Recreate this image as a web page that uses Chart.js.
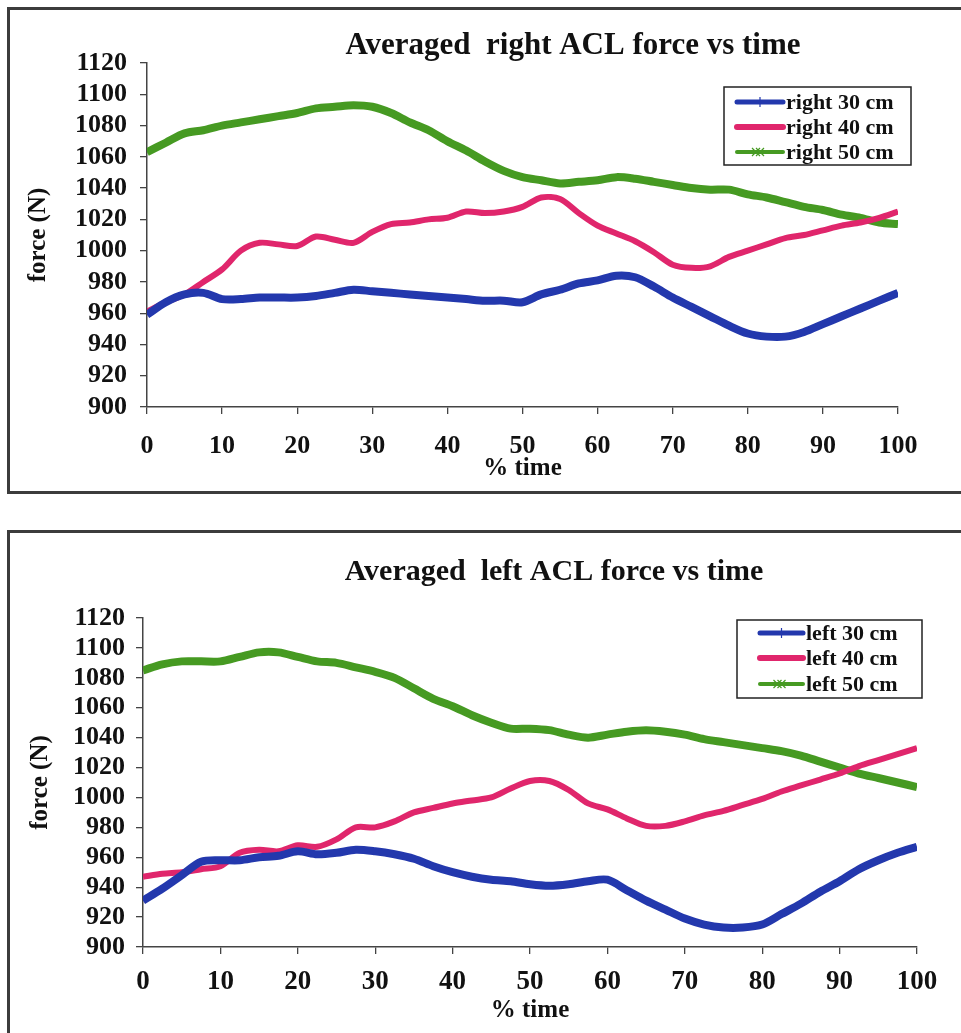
<!DOCTYPE html>
<html>
<head>
<meta charset="utf-8">
<title>Averaged ACL force vs time</title>
<script src="https://cdn.jsdelivr.net/npm/chart.js@4.4.0/dist/chart.umd.min.js"></script>
<style>
  html, body { margin: 0; padding: 0; background: #fff; overflow: hidden; width: 961px; height: 1033px; }
  .frame { position: absolute; border: 3px solid #3c3c3c; box-sizing: border-box; }
  #frameTop { left: 7px; top: 7px; width: 1000px; height: 487px; }
  #frameBottom { left: 7px; top: 530px; width: 1000px; height: 560px; }
  canvas { position: absolute; left: 0; }
  #chartTop { top: 0; }
  #chartBottom { top: 500px; }
</style>
</head>
<body>
<div class="frame" id="frameTop"></div>
<div class="frame" id="frameBottom"></div>
<canvas id="chartTop" width="961" height="500" style="width:961px;height:500px"></canvas>
<canvas id="chartBottom" width="961" height="533" style="width:961px;height:533px"></canvas>
<script>
// % of the movement time at which each averaged force value was sampled
const timePct = [0, 2.5, 5, 7.5, 10, 12.5, 15, 17.5, 20, 22.5, 25, 27.5, 30, 32.5, 35, 37.5, 40,
  42.5, 45, 47.5, 50, 52.5, 55, 57.5, 60, 62.5, 65, 67.5, 70, 72.5, 75, 77.5, 80, 82.5, 85,
  87.5, 90, 92.5, 95, 97.5, 100];

const xTicks = [0, 10, 20, 30, 40, 50, 60, 70, 80, 90, 100];
const yTicks = [900, 920, 940, 960, 980, 1000, 1020, 1040, 1060, 1080, 1100, 1120];

// Right knee, averaged ACL force (N)
const right30 = [959, 967, 972, 973, 969, 969, 970, 970, 970, 971, 973, 975, 974, 973, 972, 971, 970,
  969, 968, 968, 967, 972, 975, 979, 981, 984, 983, 977, 970, 964, 958, 952, 947, 945, 945,
  948, 953, 958, 963, 968, 973];
const right40 = [961, 967, 972, 980, 988, 1000, 1005, 1004, 1003, 1009, 1007, 1005, 1012, 1017, 1018,
  1020, 1021, 1025, 1024, 1025, 1028, 1034, 1033, 1024, 1016, 1011, 1006, 999, 991, 989, 990,
  996, 1000, 1004, 1008, 1010, 1013, 1016, 1018, 1021, 1025];
const right50 = [1063, 1069, 1075, 1077, 1080, 1082, 1084, 1086, 1088, 1091, 1092, 1093, 1092, 1088,
  1082, 1077, 1070, 1064, 1057, 1051, 1047, 1045, 1043, 1044, 1045, 1047, 1046, 1044, 1042, 1040,
  1039, 1039, 1036, 1034, 1031, 1028, 1026, 1023, 1021, 1018, 1017];

// Left knee, averaged ACL force (N)
const left30 = [931, 939, 948, 957, 958, 958, 960, 961, 964, 962, 963, 965, 964, 962, 959, 954, 950,
  947, 945, 944, 942, 941, 942, 944, 945, 938, 931, 925, 919, 915, 913, 913, 915, 922, 929,
  937, 944, 952, 958, 963, 967];
const left40 = [947, 949, 950, 952, 954, 963, 965, 964, 968, 967, 972, 980, 980, 984, 990, 993, 996,
  998, 1000, 1006, 1011, 1011, 1005, 996, 992, 986, 981, 981, 984, 988, 991, 995, 999, 1004,
  1008, 1012, 1016, 1021, 1025, 1029, 1033];
const left50 = [1085, 1089, 1091, 1091, 1091, 1094, 1097, 1097, 1094, 1091, 1090, 1087, 1084, 1080,
  1073, 1066, 1061, 1055, 1050, 1046, 1046, 1045, 1042, 1040, 1042, 1044, 1045, 1044, 1042, 1039,
  1037, 1035, 1033, 1031, 1028, 1024, 1020, 1016, 1013, 1010, 1007];

const BLUE = '#2338ad';
const PINK = '#e0266c';
const GREEN = '#469a22';
const SERIF = '"Liberation Serif", "Times New Roman", serif';

function points(values) {
  return timePct.map((t, i) => ({ x: t, y: values[i] }));
}

function series(label, values, color, width, marker) {
  return {
    label: label,
    data: points(values),
    borderColor: color,
    backgroundColor: color,
    borderWidth: width,
    pointRadius: 0,
    tension: 0.3,
    fill: false,
    marker: marker
  };
}

// Heading centred over the figure box rather than over the plot
const figureTitle = {
  id: 'figureTitle',
  afterDraw(chart, args, opts) {
    const ctx = chart.ctx;
    ctx.save();
    ctx.fillStyle = '#111';
    ctx.font = 'bold ' + opts.size + 'px ' + SERIF;
    ctx.textAlign = 'center';
    ctx.textBaseline = 'middle';
    ctx.fillText(opts.text, opts.x, opts.y);
    ctx.restore();
  }
};

// Boxed legend drawn inside the plot, as in the spreadsheet figure
const boxedLegend = {
  id: 'boxedLegend',
  afterDraw(chart, args, opts) {
    const ctx = chart.ctx;
    ctx.save();
    ctx.fillStyle = '#ffffff';
    ctx.fillRect(opts.left, opts.top, opts.width, opts.height);
    ctx.strokeStyle = '#222';
    ctx.lineWidth = 1.5;
    ctx.strokeRect(opts.left, opts.top, opts.width, opts.height);
    chart.data.datasets.forEach((ds, i) => {
      const y = opts.rows[i];
      ctx.strokeStyle = ds.borderColor;
      ctx.lineWidth = ds.marker === 'x' ? 4 : (ds.marker === '+' ? 5 : 6);
      ctx.lineCap = 'round';
      ctx.beginPath();
      ctx.moveTo(opts.sampleFrom, y);
      ctx.lineTo(opts.sampleTo, y);
      ctx.stroke();
      const cx = (opts.sampleFrom + opts.sampleTo) / 2;
      ctx.lineWidth = 1.2;
      ctx.lineCap = 'butt';
      if (ds.marker === '+') {
        ctx.beginPath();
        ctx.moveTo(cx, y - 5);
        ctx.lineTo(cx, y + 5);
        ctx.stroke();
      } else if (ds.marker === 'x') {
        ctx.beginPath();
        ctx.moveTo(cx - 4, y - 4); ctx.lineTo(cx + 4, y + 4);
        ctx.moveTo(cx - 4, y + 4); ctx.lineTo(cx + 4, y - 4);
        ctx.moveTo(cx - 8, y - 4); ctx.lineTo(cx, y + 4);
        ctx.moveTo(cx - 8, y + 4); ctx.lineTo(cx, y - 4);
        ctx.stroke();
      }
      ctx.fillStyle = '#111';
      ctx.font = 'bold ' + opts.fontSize + 'px ' + SERIF;
      ctx.textBaseline = 'middle';
      ctx.textAlign = 'left';
      ctx.fillText(ds.label, opts.textX, y + 1);
    });
    ctx.restore();
  }
};

function makeChart(id, cfg) {
  return new Chart(document.getElementById(id), {
    type: 'line',
    data: { datasets: cfg.datasets },
    plugins: [figureTitle, boxedLegend],
    options: {
      responsive: false,
      animation: false,
      events: [],
      layout: { padding: cfg.padding },
      plugins: {
        legend: { display: false },
        tooltip: { enabled: false },
        title: { display: false },
        figureTitle: cfg.heading,
        boxedLegend: cfg.legend
      },
      scales: {
        x: {
          type: 'linear',
          min: 0,
          max: 100,
          afterBuildTicks: (scale) => { scale.ticks = xTicks.map(v => ({ value: v })); },
          afterFit: (scale) => { scale.height = cfg.xHeight; },
          ticks: {
            color: '#111',
            padding: cfg.xTickPad,
            maxRotation: 0,
            autoSkip: false,
            callback: (v) => String(v),
            font: { family: SERIF, size: cfg.xTickSize, weight: 'bold' }
          },
          grid: { display: true, drawOnChartArea: false, drawTicks: true, tickLength: 7, color: '#444', lineWidth: 1.3 },
          border: { display: true, color: '#444', width: 1.5 },
          title: {
            display: true,
            text: cfg.xTitle,
            color: '#111',
            font: { family: SERIF, size: 25, weight: 'bold' },
            padding: { top: 0, bottom: cfg.xTitlePad }
          }
        },
        y: {
          type: 'linear',
          min: 900,
          max: 1120,
          afterBuildTicks: (scale) => { scale.ticks = yTicks.map(v => ({ value: v })); },
          afterFit: (scale) => { scale.width = cfg.yWidth; },
          ticks: {
            color: '#111',
            padding: cfg.yTickPad,
            autoSkip: false,
            callback: (v) => String(v),
            font: { family: SERIF, size: 26, weight: 'bold' }
          },
          grid: { display: true, drawOnChartArea: false, drawTicks: true, tickLength: 7, color: '#444', lineWidth: 1.3 },
          border: { display: true, color: '#444', width: 1.5 },
          title: {
            display: true,
            text: 'force (N)',
            color: '#111',
            font: { family: SERIF, size: 25, weight: 'bold' },
            padding: { top: cfg.yTitlePad, bottom: 0 }
          }
        }
      }
    }
  });
}

makeChart('chartTop', {
  heading: { text: 'Averaged  right ACL force vs time', x: 573, y: 46, size: 31 },
  xTitle: '% time',
  padding: { left: 18, right: 63, top: 63, bottom: 13 },
  xHeight: 80,
  xTickSize: 26,
  xTickPad: 17,
  xTitlePad: 3,
  yWidth: 129,
  yTickPad: 13,
  yTitlePad: 6,
  datasets: [
    series('right 30 cm', right30, BLUE, 8, '+'),
    series('right 40 cm', right40, PINK, 6, ''),
    series('right 50 cm', right50, GREEN, 8, 'x')
  ],
  legend: { left: 724, top: 87, width: 187, height: 78, rows: [102, 127, 152],
            sampleFrom: 737, sampleTo: 783, textX: 786, fontSize: 22 }
});

makeChart('chartBottom', {
  heading: { text: 'Averaged  left ACL force vs time', x: 554, y: 72, size: 30 },
  xTitle: '% time',
  padding: { left: 18, right: 44, top: 118, bottom: 3 },
  xHeight: 83,
  xTickSize: 27,
  xTickPad: 12,
  xTitlePad: 4,
  yWidth: 125,
  yTickPad: 11,
  yTitlePad: 8,
  datasets: [
    series('left 30 cm', left30, BLUE, 8, '+'),
    series('left 40 cm', left40, PINK, 6, ''),
    series('left 50 cm', left50, GREEN, 8, 'x')
  ],
  legend: { left: 737, top: 120, width: 185, height: 78, rows: [133, 158, 184],
            sampleFrom: 760, sampleTo: 803, textX: 806, fontSize: 22 }
});
</script>
</body>
</html>
